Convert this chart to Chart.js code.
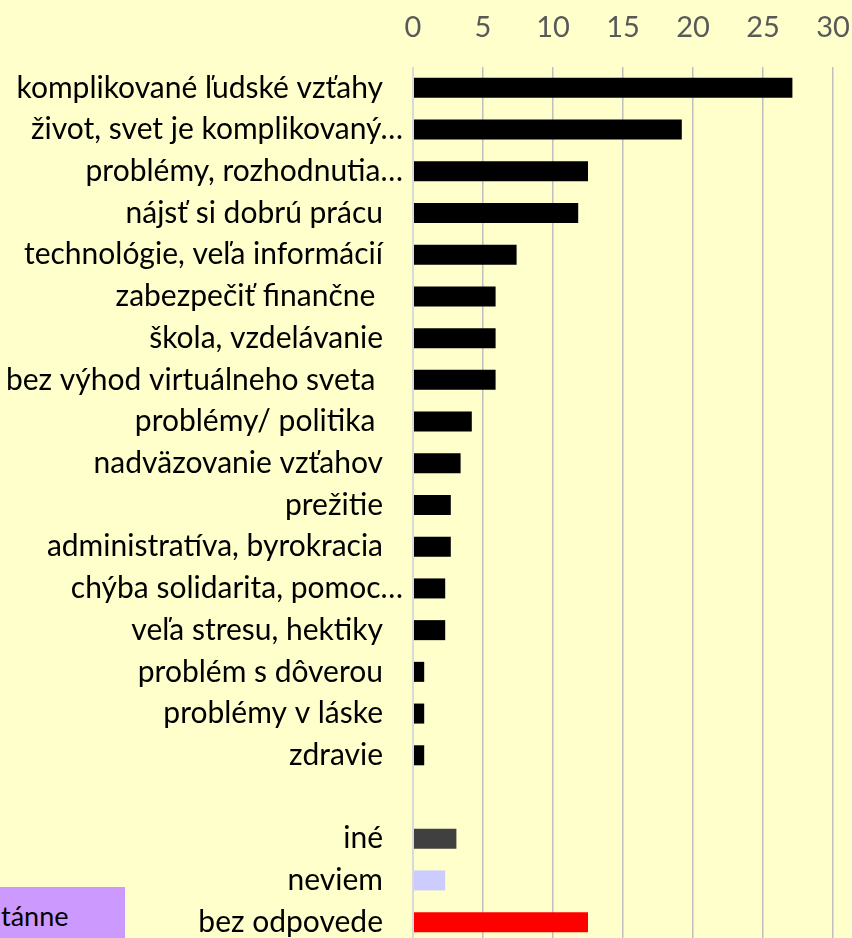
<!DOCTYPE html>
<html lang="sk">
<head>
    <meta charset="UTF-8">
    <title>Problémy</title>
    <script src="https://cdn.jsdelivr.net/npm/chart.js"></script>
    <style>
        html, body {
            margin: 0;
            padding: 0;
            background: #FFFFCC;
            overflow: hidden;
        }

        .chart-container {
            position: relative;
            width: 852px;
            height: 943px;
        }

        .side-box {
            position: absolute;
            left: 0;
            top: 887px;
            width: 125px;
            height: 60px;
            background: #CC99FF;
            font-family: 'Lato', sans-serif;
            font-size: 27px;
            line-height: 30px;
            padding: 14px 0 0 1px;
            box-sizing: border-box;
            color: #000;
        }
    </style>
</head>

<body>
    <div class="chart-container">
        <canvas id="myChart"></canvas>
    </div>
    <div class="side-box">tánne</div>
</body>
<script>

    const labels = [
        'komplikované ľudské vzťahy',
        'život, svet je komplikovaný…',
        'problémy, rozhodnutia…',
        'nájsť si dobrú prácu',
        'technológie, veľa informácií',
        'zabezpečiť finančne ',
        'škola, vzdelávanie',
        'bez výhod virtuálneho sveta ',
        'problémy/ politika ',
        'nadväzovanie vzťahov',
        'prežitie',
        'administratíva, byrokracia',
        'chýba solidarita, pomoc…',
        'veľa stresu, hektiky',
        'problém s dôverou',
        'problémy v láske',
        'zdravie',
        '',
        'iné',
        'neviem',
        'bez odpovede'
    ];

    const values = [27.1, 19.2, 12.5, 11.8, 7.4, 5.9, 5.9, 5.9, 4.2, 3.4, 2.7, 2.7, 2.3, 2.3, 0.8, 0.8, 0.8, null, 3.1, 2.3, 12.5];

    const barColors = [
        '#000000', '#000000', '#000000', '#000000', '#000000', '#000000', '#000000',
        '#000000', '#000000', '#000000', '#000000', '#000000', '#000000', '#000000',
        '#000000', '#000000', '#000000', '#000000', '#404040', '#CCCCFF', '#FF0000'
    ];

    const xTicks = [0, 5, 10, 15, 20, 25, 30];

    const FONT = 'Lato';

    // category labels drawn by hand so the cut-off ones can sit closer to the axis
    const categoryLabels = {
        id: 'categoryLabels',
        afterDraw(chart) {
            const c = chart.ctx;
            const y = chart.scales.y;
            const left = chart.chartArea.left;
            c.save();
            c.font = '30px ' + FONT;
            c.fillStyle = '#000000';
            c.textAlign = 'right';
            c.textBaseline = 'middle';
            labels.forEach((lab, i) => {
                const x = lab.endsWith('…') ? left - 10 : left - 30;
                c.fillText(lab, x, y.getPixelForValue(i));
            });
            c.restore();
        }
    };

    const ctx = document.getElementById('myChart');
    const chart = new Chart(ctx, {
        type: 'bar',
        data: {
            labels: labels,
            datasets: [{
                data: values,
                backgroundColor: barColors,
                barPercentage: 0.48,
                categoryPercentage: 1.0
            }]
        },
        options: {
            indexAxis: 'y',
            animation: false,
            responsive: true,
            maintainAspectRatio: false,
            events: [],
            layout: {
                padding: 0
            },
            plugins: {
                legend: { display: false },
                tooltip: { enabled: false }
            },
            scales: {
                x: {
                    position: 'top',
                    min: 0,
                    max: 30,
                    afterBuildTicks(scale) {
                        scale.ticks = xTicks.map(v => ({ value: v }));
                    },
                    afterFit(scale) {
                        scale.height = 67;
                        // the tick padding is counted into the side overhang, keep only the label half-width
                        scale.paddingRight = 19;
                    },
                    ticks: {
                        color: '#595959',
                        padding: 22,
                        font: { family: FONT, size: 29 }
                    },
                    grid: {
                        drawTicks: false,
                        color: (c) => c.index === 0 ? '#D9D9D9' : '#BFBFBF',
                        lineWidth: (c) => c.index === 0 ? 2 : 1.5
                    },
                    border: { display: false }
                },
                y: {
                    ticks: { display: false },
                    grid: { display: false },
                    border: { display: false },
                    afterFit(scale) {
                        scale.width = 413;
                    }
                }
            }
        },
        plugins: [categoryLabels]
    });

</script>
</html>
